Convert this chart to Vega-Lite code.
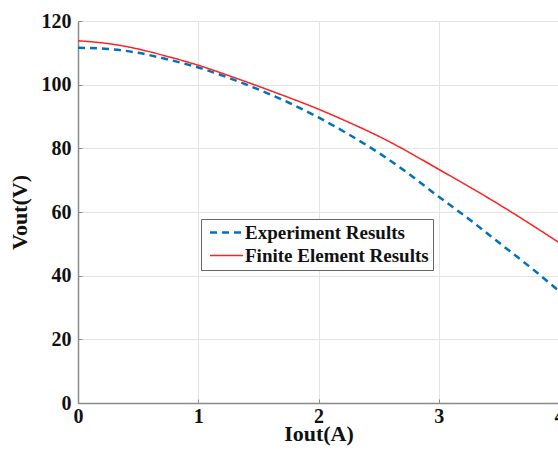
{
  "$schema": "https://vega.github.io/schema/vega-lite/v6.json",
  "autosize": {"type": "none"},
  "padding": {"left": 78, "top": 21, "right": 0, "bottom": 47},
  "width": 481,
  "height": 382,
  "background": "white",
  "config": {
    "view": {"stroke": null},
    "font": "Liberation Serif"
  },
  "data": {
    "values": [
      {"x": 0, "v": 111.6, "s": "Experiment Results"},
      {"x": 0.25, "v": 111.2, "s": "Experiment Results"},
      {"x": 0.5, "v": 110.0, "s": "Experiment Results"},
      {"x": 0.75, "v": 107.9, "s": "Experiment Results"},
      {"x": 1, "v": 105.4, "s": "Experiment Results"},
      {"x": 1.25, "v": 102.2, "s": "Experiment Results"},
      {"x": 1.5, "v": 98.5, "s": "Experiment Results"},
      {"x": 1.75, "v": 94.4, "s": "Experiment Results"},
      {"x": 2, "v": 89.7, "s": "Experiment Results"},
      {"x": 2.25, "v": 84.4, "s": "Experiment Results"},
      {"x": 2.5, "v": 78.6, "s": "Experiment Results"},
      {"x": 2.75, "v": 72.0, "s": "Experiment Results"},
      {"x": 3, "v": 64.8, "s": "Experiment Results"},
      {"x": 3.25, "v": 57.8, "s": "Experiment Results"},
      {"x": 3.5, "v": 50.4, "s": "Experiment Results"},
      {"x": 3.75, "v": 43.0, "s": "Experiment Results"},
      {"x": 4, "v": 35.2, "s": "Experiment Results"},
      {"x": 0, "v": 113.8, "s": "Finite Element Results"},
      {"x": 0.25, "v": 112.9, "s": "Finite Element Results"},
      {"x": 0.5, "v": 111.2, "s": "Finite Element Results"},
      {"x": 0.75, "v": 108.8, "s": "Finite Element Results"},
      {"x": 1, "v": 106.1, "s": "Finite Element Results"},
      {"x": 1.25, "v": 102.9, "s": "Finite Element Results"},
      {"x": 1.5, "v": 99.5, "s": "Finite Element Results"},
      {"x": 1.75, "v": 96.0, "s": "Finite Element Results"},
      {"x": 2, "v": 92.3, "s": "Finite Element Results"},
      {"x": 2.25, "v": 88.2, "s": "Finite Element Results"},
      {"x": 2.5, "v": 83.8, "s": "Finite Element Results"},
      {"x": 2.75, "v": 78.8, "s": "Finite Element Results"},
      {"x": 3, "v": 73.4, "s": "Finite Element Results"},
      {"x": 3.25, "v": 68.0, "s": "Finite Element Results"},
      {"x": 3.5, "v": 62.4, "s": "Finite Element Results"},
      {"x": 3.75, "v": 56.5, "s": "Finite Element Results"},
      {"x": 4, "v": 50.4, "s": "Finite Element Results"}
    ]
  },
  "mark": {"type": "line", "interpolate": "natural", "clip": true},
  "encoding": {
    "x": {
      "field": "x", "type": "quantitative",
      "scale": {"domain": [0, 4], "nice": false},
      "axis": {
        "values": [0, 1, 2, 3, 4],
        "title": "Iout(A)",
        "titleFont": "Liberation Serif", "titleFontSize": 22, "titleFontWeight": "bold", "titleColor": "#111",
        "titlePadding": -3,
        "labelFont": "Liberation Serif", "labelFontSize": 20, "labelFontWeight": "bold", "labelColor": "#111",
        "labelPadding": 7,
        "labelFlush": false,
        "domainColor": "#8a8a8a", "domainWidth": 1.5,
        "tickColor": "#8a8a8a", "tickSize": -4, "tickWidth": 1,
        "grid": true, "gridColor": "#e3e3e3", "gridWidth": 1
      }
    },
    "y": {
      "field": "v", "type": "quantitative",
      "scale": {"domain": [0, 120], "nice": false},
      "axis": {
        "values": [0, 20, 40, 60, 80, 100, 120],
        "title": "Vout(V)",
        "titleFont": "Liberation Serif", "titleFontSize": 22, "titleFontWeight": "bold", "titleColor": "#111",
        "titlePadding": 10,
        "labelFont": "Liberation Serif", "labelFontSize": 20, "labelFontWeight": "bold", "labelColor": "#111",
        "labelPadding": 11,
        "labelFlush": false,
        "domainColor": "#8a8a8a", "domainWidth": 1.5,
        "tickColor": "#8a8a8a", "tickSize": -4, "tickWidth": 1,
        "grid": true, "gridColor": "#e3e3e3", "gridWidth": 1
      }
    },
    "color": {
      "field": "s", "type": "nominal",
      "scale": {"domain": ["Experiment Results", "Finite Element Results"], "range": ["#0072BD", "#FF2020"]},
      "legend": {
        "title": null,
        "orient": "none",
        "legendX": 123,
        "legendY": 198,
        "symbolType": "M-3,0H3",
        "symbolSize": 121,
        "symbolOffset": 12,
        "symbolStrokeWidth": 2,
        "labelFont": "Liberation Serif", "labelFontSize": 19, "labelFontWeight": "bold", "labelColor": "#111",
        "labelLimit": 400,
        "strokeColor": "#666",
        "fillColor": "white",
        "padding": 4,
        "rowPadding": 3,
        "labelOffset": 9
      }
    },
    "strokeDash": {
      "field": "s", "type": "nominal",
      "scale": {"domain": ["Experiment Results", "Finite Element Results"], "range": [[7, 5], [1, 0]]},
      "legend": null
    },
    "strokeWidth": {
      "field": "s", "type": "nominal",
      "scale": {"domain": ["Experiment Results", "Finite Element Results"], "range": [2.5, 1.5]},
      "legend": null
    }
  }
}
